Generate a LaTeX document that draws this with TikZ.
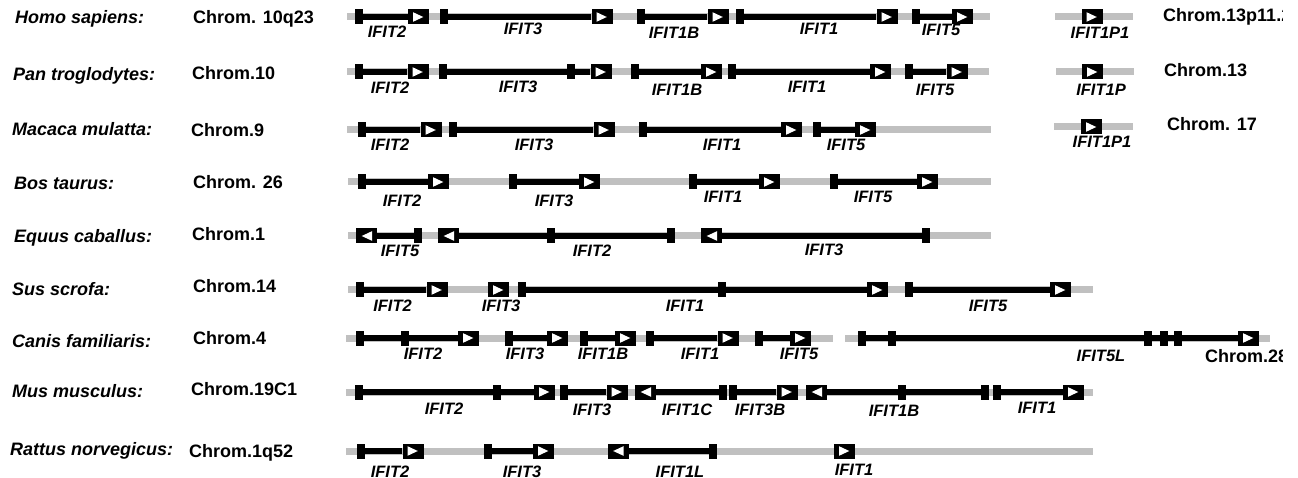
\documentclass[tikz,border=0pt]{standalone}
\usepackage{fontspec}
\setmainfont{Liberation Sans}
\definecolor{trackgrey}{RGB}{192,192,192}
\tikzset{
  track/.style={draw=trackgrey, line width=7pt},
  gline/.style={draw=black, line width=5.5pt},
  blk/.style={rectangle, fill=black, inner sep=0pt, minimum width=8pt, minimum height=15pt},
  rbox/.style={rectangle, fill=black, inner sep=0pt, minimum width=21pt, minimum height=15pt,
    path picture={\fill[white] ([shift={(-5.5,-4.8)}]path picture bounding box.center) -- ([shift={(4.8,0)}]path picture bounding box.center) -- ([shift={(-5.5,4.8)}]path picture bounding box.center) -- cycle;}},
  lbox/.style={rectangle, fill=black, inner sep=0pt, minimum width=21pt, minimum height=15pt,
    path picture={\fill[white] ([shift={(5.5,-4.8)}]path picture bounding box.center) -- ([shift={(-4.8,0)}]path picture bounding box.center) -- ([shift={(5.5,4.8)}]path picture bounding box.center) -- cycle;}},
  sp/.style={anchor=base west, inner sep=0pt, font=\fontsize{18}{20}\selectfont\bfseries\itshape},
  chr/.style={anchor=base west, inner sep=0pt, font=\fontsize{18}{20}\selectfont\bfseries},
  lbl/.style={anchor=base, inner sep=0pt, font=\fontsize{16.5}{18}\selectfont\bfseries\itshape},
}
\newcommand{\trk}[4]{\coordinate (#1L) at (#3,#2); \coordinate (#1R) at (#4,#2); \draw[track] (#1L) -- (#1R);}
\newcommand{\fgene}[4]{\node[blk] (#1s) at (#3,#2) {}; \node[rbox] (#1b) at (#4,#2) {}; \draw[gline] (#1s.center) -- (#1b.west);}
\newcommand{\rgene}[4]{\node[lbox] (#1b) at (#3,#2) {}; \node[blk] (#1e) at (#4,#2) {}; \draw[gline] (#1b.east) -- (#1e.center);}
\begin{document}
\begin{tikzpicture}[x=1pt,y=-1pt]
\useasboundingbox (0,0) rectangle (1298,478);
% species and chromosome labels
\node[sp] (s1) at (15,23.5) {Homo sapiens:};
\node[sp] (s2) at (13,80.5) {Pan troglodytes:};
\node[sp] (s3) at (12,136) {Macaca mulatta:};
\node[sp] (s4) at (14,189.5) {Bos taurus:};
\node[sp] (s5) at (14,242.5) {Equus caballus:};
\node[sp] (s6) at (12,295.5) {Sus scrofa:};
\node[sp] (s7) at (12,347) {Canis familiaris:};
\node[sp] (s8) at (12,397) {Mus musculus:};
\node[sp] (s9) at (10,455) {Rattus norvegicus:};
\node[chr] (c1) at (193,24) {Chrom. 10q23};
\node[chr] (c2) at (192,80) {Chrom.10};
\node[chr] (c3) at (191,137) {Chrom.9};
\node[chr] (c4) at (193,189) {Chrom. 26};
\node[chr] (c5) at (192,240.5) {Chrom.1};
\node[chr] (c6) at (193,292) {Chrom.14};
\node[chr] (c7) at (193,344) {Chrom.4};
\node[chr] (c8) at (191,395) {Chrom.19C1};
\node[chr] (c9) at (189,457) {Chrom.1q52};
\begin{scope}
\clip (0,0) rectangle (1282,478);
\node[chr] (c1b) at (1163,22) {Chrom.13p11.2};
\node[chr] (c7b) at (1205,362) {Chrom.28};
\end{scope}
\node[chr] (c2b) at (1164,77) {Chrom.13};
\node[chr] (c3b) at (1167,131) {Chrom. 17};
% ---------- Row 1: Homo sapiens
\trk{t1}{17}{347}{990}
\trk{t1p}{17}{1055}{1133}
\fgene{a1}{17}{359}{418.5}
\fgene{a2}{17}{443.5}{602}
\fgene{a3}{17}{641}{718}
\fgene{a4}{17}{739.5}{887}
\fgene{a5}{17}{916}{962.5}
\node[rbox] (a6b) at (1092,17) {};
\node[lbl] (la1) at (387,37.5) {IFIT2};
\node[lbl] (la2) at (523,35) {IFIT3};
\node[lbl] (la3) at (674,39) {IFIT1B};
\node[lbl] (la4) at (819,35) {IFIT1};
\node[lbl] (la5) at (941,36) {IFIT5};
\node[lbl] (la6) at (1100,38.5) {IFIT1P1};
% ---------- Row 2: Pan troglodytes
\trk{t2}{72}{347}{989}
\trk{t2p}{72}{1056}{1134}
\fgene{b1}{72}{359}{418}
\fgene{b2}{72}{443}{601}
\node[blk] (b2i) at (571,72) {};
\fgene{b3}{72}{634.5}{711.5}
\fgene{b4}{72}{732}{880.5}
\fgene{b5}{72}{909}{957}
\node[rbox] (b6b) at (1092.5,72) {};
\node[lbl] (lb1) at (390,93.5) {IFIT2};
\node[lbl] (lb2) at (518,92.5) {IFIT3};
\node[lbl] (lb3) at (677,95.5) {IFIT1B};
\node[lbl] (lb4) at (807,93) {IFIT1};
\node[lbl] (lb5) at (935,95.5) {IFIT5};
\node[lbl] (lb6) at (1101,95.5) {IFIT1P};
% ---------- Row 3: Macaca mulatta
\trk{t3}{130}{347}{991}
\trk{t3p}{127}{1054}{1133}
\fgene{m1}{130}{361.5}{431}
\fgene{m2}{130}{453}{604}
\fgene{m3}{130}{643}{791.5}
\fgene{m4}{130}{816.5}{865.5}
\node[rbox] (m5b) at (1091.5,127) {};
\node[lbl] (lm1) at (390,151) {IFIT2};
\node[lbl] (lm2) at (534,151) {IFIT3};
\node[lbl] (lm3) at (722,151) {IFIT1};
\node[lbl] (lm4) at (846,151) {IFIT5};
\node[lbl] (lm5) at (1102,147.5) {IFIT1P1};
% ---------- Row 4: Bos taurus
\trk{t4}{182}{348}{991}
\fgene{d1}{182}{361.5}{438.5}
\fgene{d2}{182}{513}{589.5}
\fgene{d3}{182}{692.5}{769.5}
\fgene{d4}{182}{834}{927.5}
\node[lbl] (ld1) at (402,207) {IFIT2};
\node[lbl] (ld2) at (554,207) {IFIT3};
\node[lbl] (ld3) at (723,203) {IFIT1};
\node[lbl] (ld4) at (873,203) {IFIT5};
% ---------- Row 5: Equus caballus
\trk{t5}{236}{348}{991}
\rgene{e1}{236}{366.5}{418}
\rgene{e2}{236}{448.5}{671}
\node[blk] (e2i) at (551,236) {};
\rgene{e3}{236}{711.5}{926}
\node[lbl] (le1) at (400,257) {IFIT5};
\node[lbl] (le2) at (592,257) {IFIT2};
\node[lbl] (le3) at (824,256) {IFIT3};
% ---------- Row 6: Sus scrofa
\trk{t6}{290}{348}{1093}
\fgene{f1}{290}{360}{437}
\node[rbox] (f2b) at (498.5,290) {};
\fgene{f3}{290}{522}{877.5}
\node[blk] (f3i) at (722,290) {};
\fgene{f4}{290}{909}{1060.5}
\node[lbl] (lf1) at (392.5,311) {IFIT2};
\node[lbl] (lf2) at (501,311) {IFIT3};
\node[lbl] (lf3) at (685,311) {IFIT1};
\node[lbl] (lf4) at (988,311) {IFIT5};
% ---------- Row 7: Canis familiaris
\trk{t7}{338}{346}{833}
\trk{t7b}{338}{845}{1270}
\fgene{g1}{338}{360}{468.5}
\node[blk] (g1i) at (405,338) {};
\fgene{g2}{338}{509}{557.5}
\fgene{g3}{338}{584}{625.5}
\fgene{g4}{338}{650}{728}
\fgene{g5}{338}{758.5}{800.5}
\fgene{g6}{338}{861.5}{1248.5}
\node[blk] (g6i) at (891.5,338) {};
\node[blk] (g6j) at (1147.5,338) {};
\node[blk] (g6k) at (1163.5,338) {};
\node[blk] (g6l) at (1177.5,338) {};
\node[lbl] (lg1) at (423,359) {IFIT2};
\node[lbl] (lg2) at (525,359) {IFIT3};
\node[lbl] (lg3) at (603,359) {IFIT1B};
\node[lbl] (lg4) at (700,359) {IFIT1};
\node[lbl] (lg5) at (799,359) {IFIT5};
\node[lbl] (lg6) at (1101,361) {IFIT5L};
% ---------- Row 8: Mus musculus
\trk{t8}{392}{346}{1093}
\fgene{h1}{392}{359}{544.5}
\node[blk] (h1i) at (497,392) {};
\fgene{h2}{392}{564}{617}
\rgene{h3}{392}{645.5}{723}
\fgene{h4}{392}{732.5}{787}
\rgene{h5}{392}{816.5}{985}
\node[blk] (h5i) at (902,392) {};
\fgene{h6}{392}{997}{1073.5}
\node[lbl] (lh1) at (444,414) {IFIT2};
\node[lbl] (lh2) at (592,415) {IFIT3};
\node[lbl] (lh3) at (687,415) {IFIT1C};
\node[lbl] (lh4) at (760,415) {IFIT3B};
\node[lbl] (lh5) at (894,416) {IFIT1B};
\node[lbl] (lh6) at (1037,413) {IFIT1};
% ---------- Row 9: Rattus norvegicus
\trk{t9}{451}{346}{1093}
\fgene{k1}{451}{361}{413}
\fgene{k2}{451}{488}{543.5}
\rgene{k3}{451}{618}{713}
\node[rbox] (k4b) at (844.5,451) {};
\node[lbl] (lk1) at (390,477) {IFIT2};
\node[lbl] (lk2) at (522,477) {IFIT3};
\node[lbl] (lk3) at (680,477) {IFIT1L};
\node[lbl] (lk4) at (854,475) {IFIT1};
\end{tikzpicture}
\end{document}
